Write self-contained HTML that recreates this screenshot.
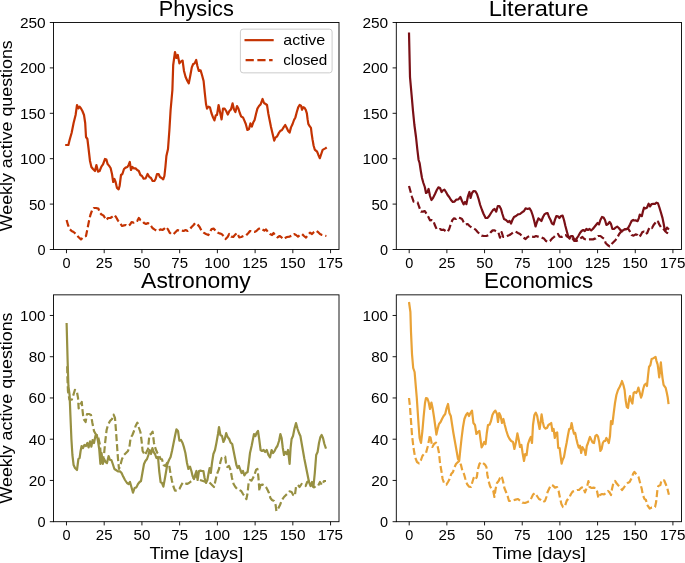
<!DOCTYPE html>
<html lang="en"><head><meta charset="utf-8"><title>Weekly active questions</title>
<style>html,body{margin:0;padding:0;background:#fff;}body{width:685px;height:563px;overflow:hidden;}svg{display:block;}svg text{font-family:"Liberation Sans",sans-serif;fill:#000000;}</style></head><body>
<svg width="685" height="563" viewBox="0 0 685 563">
<defs><filter id="nf" x="0" y="0" width="685" height="563" filterUnits="userSpaceOnUse"><feOffset dx="0" dy="0"/></filter></defs>
<rect width="685" height="563" fill="#ffffff"/>
<g id="TL">
<path d="M66.60 220.00 L68.00 225.00 L69.60 229.00 L71.60 231.00 L73.60 232.00 L76.00 234.00 L78.40 237.00 L81.00 239.40 L83.60 237.00 L86.00 236.00 L87.40 229.00 L89.00 221.00 L90.40 215.00 L92.00 210.60 L93.60 208.00 L96.00 208.00 L98.40 208.60 L100.00 213.00 L101.60 214.60 L103.40 215.40 L105.00 218.00 L106.40 220.00 L108.00 218.00 L110.40 218.00 L112.40 216.60 L114.40 215.00 L116.00 217.00 L118.00 220.60 L120.00 223.00 L122.00 226.00 L124.00 225.40 L126.00 225.00 L128.00 226.00 L130.00 224.60 L131.60 222.00 L133.60 222.60 L135.60 221.00 L137.20 221.00 L138.80 218.00 L140.40 220.00 L142.40 221.00 L144.00 223.00 L146.00 224.00 L148.00 223.00 L150.40 225.00 L152.40 228.00 L154.40 229.40 L156.40 230.60 L158.40 231.00 L160.40 229.40 L162.40 230.00 L164.00 229.00 L166.00 227.00 L168.00 229.40 L169.60 232.60 L171.60 234.40 L173.60 234.00 L175.60 232.00 L177.60 230.00 L179.60 231.00 L181.60 230.60 L183.60 231.00 L185.60 230.00 L187.60 231.00 L189.60 229.40 L191.60 227.00 L193.60 225.00 L195.20 223.00 L198.00 225.00 L199.60 227.00 L201.60 231.00 L203.60 232.60 L206.00 234.00 L208.40 235.00 L210.00 232.00 L211.60 229.00 L213.60 228.60 L215.60 230.60 L217.60 232.60 L219.60 233.40 L221.60 234.00 L223.60 236.00 L225.60 239.00 L227.60 237.00 L229.20 234.00 L231.20 236.60 L233.20 237.00 L235.20 234.60 L237.20 233.00 L239.20 237.40 L241.20 237.00 L243.60 236.00 L246.00 235.60 L248.40 233.00 L250.00 231.00 L252.40 231.40 L254.40 232.00 L256.40 231.00 L258.40 229.00 L260.40 228.00 L262.40 229.40 L264.40 230.60 L266.00 229.40 L268.00 232.00 L270.00 234.00 L272.00 235.00 L273.60 233.00 L275.60 236.00 L277.60 237.40 L279.60 236.00 L281.60 237.40 L283.00 239.00 L285.00 238.00 L287.00 237.00 L289.60 236.60 L292.00 235.60 L294.00 234.00 L296.00 235.00 L298.00 236.60 L300.00 235.00 L302.00 234.00 L304.00 236.00 L306.00 237.60 L308.00 235.00 L310.00 232.60 L312.00 234.00 L314.00 232.00 L316.00 230.60 L318.00 232.00 L320.00 234.00 L322.00 235.00 L324.40 235.60 L326.40 236.00" fill="none" stroke="#C43302" stroke-width="2.2" stroke-linejoin="round" stroke-linecap="butt" stroke-dasharray="7.0 3.05"/>
<path d="M65.20 145.00 L68.40 145.00 L69.60 140.00 L71.60 133.00 L73.60 123.00 L75.60 115.00 L77.00 105.00 L78.40 108.40 L79.60 106.60 L81.00 108.40 L82.40 111.00 L84.00 115.00 L85.20 123.00 L86.00 137.00 L87.40 139.00 L88.60 149.00 L90.00 161.00 L91.40 167.00 L93.00 169.00 L95.00 171.00 L96.40 165.00 L98.00 171.60 L99.60 171.00 L101.40 166.60 L103.00 164.40 L105.00 159.00 L106.40 159.60 L107.60 164.00 L109.00 165.60 L110.60 168.00 L112.00 174.00 L113.20 182.00 L114.40 179.00 L115.60 182.00 L117.00 188.00 L118.60 189.40 L119.60 186.00 L121.00 175.00 L122.40 174.00 L124.00 169.00 L125.60 167.60 L127.40 167.00 L128.60 165.00 L129.80 162.00 L131.00 170.00 L132.40 167.00 L134.00 168.40 L135.60 168.40 L137.20 170.00 L138.80 171.00 L140.40 175.00 L142.00 176.00 L143.60 178.60 L145.60 178.40 L147.60 174.00 L149.40 177.00 L151.00 178.00 L152.60 181.00 L154.40 181.00 L155.60 179.00 L157.00 174.00 L158.60 174.00 L160.00 177.00 L161.60 178.00 L163.20 179.40 L164.40 176.00 L165.40 167.00 L166.40 156.00 L168.00 149.00 L169.40 130.00 L170.60 110.00 L172.40 90.00 L173.20 65.00 L175.00 52.00 L176.40 58.00 L177.80 55.00 L179.40 63.40 L181.00 61.40 L182.60 60.60 L184.00 71.00 L185.60 77.00 L187.40 81.00 L188.80 83.40 L190.40 75.00 L191.80 67.40 L193.20 64.00 L194.60 63.40 L196.20 60.00 L197.40 66.00 L198.80 71.00 L200.60 70.40 L202.00 75.00 L203.60 81.00 L204.80 93.00 L206.00 104.00 L207.00 108.60 L208.60 106.60 L210.00 107.40 L211.40 113.00 L213.00 117.40 L214.40 120.40 L215.80 115.40 L217.00 115.00 L218.60 105.00 L220.00 112.00 L221.60 119.40 L223.00 108.60 L224.60 108.60 L226.20 111.00 L227.80 114.60 L229.40 111.00 L231.00 109.40 L232.60 103.40 L234.00 109.40 L235.40 112.00 L237.00 106.00 L238.40 108.60 L239.80 113.00 L241.20 116.60 L243.00 117.40 L244.40 120.60 L245.80 124.00 L247.40 130.00 L249.00 129.00 L250.40 123.40 L251.80 126.60 L253.20 122.60 L254.60 120.00 L256.00 114.00 L257.40 108.60 L259.00 106.00 L260.60 104.40 L262.60 99.00 L264.00 103.00 L265.60 104.00 L267.00 105.00 L268.40 114.00 L269.60 120.00 L271.00 127.00 L272.40 133.00 L274.20 140.60 L275.60 137.40 L277.00 136.60 L278.60 133.40 L280.20 131.00 L282.00 130.00 L283.60 127.40 L285.20 125.00 L286.80 128.00 L288.20 131.00 L289.60 132.60 L291.00 127.40 L292.60 124.00 L294.00 120.00 L295.40 117.40 L296.80 112.00 L298.20 107.40 L299.60 105.00 L301.02 105.77 L302.04 109.71 L303.21 107.23 L304.53 107.81 L305.69 109.71 L306.86 113.36 L307.59 119.20 L308.32 123.87 L309.64 126.20 L310.95 127.96 L311.68 133.80 L312.55 139.64 L313.58 145.47 L314.74 149.56 L315.91 150.58 L317.08 151.61 L318.39 154.96 L319.85 158.18 L321.17 154.23 L322.63 149.85 L323.94 149.12 L325.40 148.39 L326.72 147.37" fill="none" stroke="#C43302" stroke-width="2.2" stroke-linejoin="round" stroke-linecap="butt"/>
<rect x="53.5" y="22.5" width="285.50" height="227.00" fill="none" stroke="#000000" stroke-width="0.9"/>
<path d="M66.48 249.5 v3.7 M104.20 249.5 v3.7 M141.93 249.5 v3.7 M179.66 249.5 v3.7 M217.38 249.5 v3.7 M255.11 249.5 v3.7 M292.83 249.5 v3.7 M330.56 249.5 v3.7 M53.5 249.50 h-3.7 M53.5 204.10 h-3.7 M53.5 158.70 h-3.7 M53.5 113.30 h-3.7 M53.5 67.90 h-3.7 M53.5 22.50 h-3.7" stroke="#000000" stroke-width="0.9" fill="none"/>
</g>
<g filter="url(#nf)" id="TL-text">
<text x="62.55" y="267.50" font-size="14.70" textLength="8.07" lengthAdjust="spacingAndGlyphs">0</text>
<text x="95.86" y="267.50" font-size="14.70" textLength="16.78" lengthAdjust="spacingAndGlyphs">25</text>
<text x="133.63" y="267.50" font-size="14.70" textLength="16.80" lengthAdjust="spacingAndGlyphs">50</text>
<text x="171.38" y="267.50" font-size="14.70" textLength="16.63" lengthAdjust="spacingAndGlyphs">75</text>
<text x="204.37" y="267.50" font-size="14.70" textLength="25.65" lengthAdjust="spacingAndGlyphs">100</text>
<text x="242.25" y="267.50" font-size="14.70" textLength="25.40" lengthAdjust="spacingAndGlyphs">125</text>
<text x="279.82" y="267.50" font-size="14.70" textLength="25.65" lengthAdjust="spacingAndGlyphs">150</text>
<text x="317.70" y="267.50" font-size="14.70" textLength="25.40" lengthAdjust="spacingAndGlyphs">175</text>
<text x="37.59" y="254.90" font-size="14.70" textLength="8.07" lengthAdjust="spacingAndGlyphs">0</text>
<text x="28.90" y="209.50" font-size="14.70" textLength="16.80" lengthAdjust="spacingAndGlyphs">50</text>
<text x="20.04" y="164.10" font-size="14.70" textLength="25.65" lengthAdjust="spacingAndGlyphs">100</text>
<text x="20.04" y="118.70" font-size="14.70" textLength="25.65" lengthAdjust="spacingAndGlyphs">150</text>
<text x="19.90" y="73.30" font-size="14.70" textLength="25.79" lengthAdjust="spacingAndGlyphs">200</text>
<text x="19.90" y="27.90" font-size="14.70" textLength="25.79" lengthAdjust="spacingAndGlyphs">250</text>
<text x="158.77" y="15.60" font-size="21.60" textLength="75.04" lengthAdjust="spacingAndGlyphs">Physics</text>
<text transform="translate(12.30 136.00) rotate(-90)" x="-95.24" y="0" font-size="16.30" textLength="191.01" lengthAdjust="spacingAndGlyphs">Weekly active questions</text>
</g>
<g id="TR">
<path d="M409.00 186.00 L410.40 191.00 L412.00 197.00 L413.60 201.60 L415.60 202.00 L417.60 202.40 L419.20 207.00 L421.00 211.60 L423.00 211.60 L424.80 211.00 L426.60 214.00 L428.40 217.00 L430.00 220.40 L431.60 220.00 L433.20 220.40 L434.80 225.00 L436.60 229.00 L438.40 229.60 L440.00 229.00 L441.60 230.00 L443.60 229.60 L445.60 231.00 L447.60 232.00 L449.20 229.00 L450.80 224.00 L452.40 220.00 L454.00 218.40 L456.00 219.00 L458.00 217.40 L460.00 218.00 L462.00 219.00 L463.60 222.00 L465.60 224.40 L467.60 224.00 L469.60 226.00 L471.60 227.60 L473.60 228.40 L475.60 229.60 L477.60 232.00 L479.60 234.00 L481.60 235.60 L484.00 236.00 L486.40 236.00 L488.60 235.00 L490.60 232.40 L492.60 230.40 L494.60 230.40 L496.60 231.60 L498.40 232.40 L500.00 237.60 L501.60 232.00 L503.20 237.00 L505.20 237.00 L507.20 236.00 L509.60 235.00 L511.60 233.60 L513.60 232.00 L515.60 231.60 L518.00 233.00 L520.00 234.00 L522.00 236.00 L524.00 238.00 L525.60 239.00 L527.60 237.00 L530.00 236.00 L532.00 236.60 L534.00 237.00 L536.00 236.00 L539.00 237.00 L541.60 237.60 L544.00 238.60 L546.00 241.00 L548.00 242.00 L550.00 241.00 L552.00 238.60 L554.00 237.00 L556.00 235.00 L558.00 234.00 L559.60 236.60 L561.60 237.00 L563.60 235.60 L565.60 235.00 L567.60 237.00 L569.60 237.60 L571.00 236.00 L572.60 238.60 L574.40 241.00 L576.40 241.00 L578.40 240.00 L580.40 238.40 L582.40 237.00 L584.40 239.00 L587.00 239.60 L590.00 239.40 L593.00 239.40 L595.60 238.40 L598.00 236.00 L600.40 236.00 L602.40 237.60 L604.40 239.00 L605.60 243.00 L607.60 245.00 L609.60 246.40 L611.60 244.00 L613.60 242.00 L615.60 240.00 L617.60 237.00 L619.20 234.00 L620.80 232.00 L622.80 231.00 L624.80 230.00 L626.80 229.00 L628.40 229.00 L630.00 231.60 L631.60 235.00 L633.60 235.60 L635.60 234.40 L637.60 235.00 L639.20 237.00 L640.80 235.00 L642.40 232.00 L644.00 231.60 L645.60 234.00 L647.20 233.00 L648.80 229.00 L650.40 227.00 L652.00 228.00 L653.60 225.00 L655.20 223.00 L656.51 220.52 L658.11 221.73 L659.08 224.14 L660.92 227.11 L662.53 227.59 L664.14 229.76 L665.74 231.77 L667.11 232.97 L668.15 230.16 L669.20 229.76" fill="none" stroke="#7A1016" stroke-width="2.2" stroke-linejoin="round" stroke-linecap="butt" stroke-dasharray="7.0 3.05"/>
<path d="M409.00 32.40 L410.00 77.00 L411.60 95.00 L413.00 111.00 L414.40 125.00 L416.00 137.00 L417.40 150.00 L418.60 160.00 L419.60 163.00 L420.80 171.00 L422.00 178.00 L423.40 183.00 L424.80 187.00 L426.00 193.00 L427.40 192.00 L428.60 189.00 L430.00 196.00 L431.40 200.00 L433.00 198.00 L435.00 194.00 L436.80 190.00 L438.40 187.40 L440.00 188.00 L441.60 192.00 L443.00 190.40 L444.40 189.60 L446.00 192.00 L447.60 195.00 L449.20 197.00 L451.00 200.00 L452.80 202.00 L454.60 201.60 L456.40 199.60 L458.40 199.40 L460.40 197.00 L462.00 201.00 L463.60 204.40 L465.00 202.00 L466.40 204.00 L468.00 196.00 L469.40 192.00 L470.60 198.00 L472.00 193.00 L473.60 191.00 L475.40 191.40 L477.00 194.00 L478.60 199.00 L480.20 205.00 L482.00 210.00 L483.60 214.00 L485.60 218.00 L487.40 218.00 L489.20 216.00 L491.00 213.00 L493.00 210.00 L494.60 209.00 L496.20 211.60 L497.80 206.00 L499.40 206.00 L501.00 209.00 L502.40 214.00 L504.00 219.00 L506.00 220.00 L508.00 222.00 L509.60 221.00 L511.00 223.60 L512.40 220.00 L514.00 217.00 L516.00 216.00 L518.00 214.40 L520.00 214.00 L522.00 212.40 L524.00 211.00 L525.60 208.40 L527.60 209.00 L529.60 208.40 L531.20 211.00 L532.60 215.00 L534.00 220.00 L535.40 226.00 L535.60 226.40 L537.00 222.00 L538.40 218.40 L540.00 219.60 L541.40 221.00 L543.00 217.00 L544.40 214.40 L546.00 213.40 L547.60 213.00 L549.00 217.00 L550.60 220.00 L552.00 223.60 L553.60 224.40 L555.00 219.60 L556.40 216.00 L558.00 216.40 L559.40 218.00 L561.00 216.00 L562.60 215.60 L564.00 220.00 L565.40 226.00 L567.00 232.00 L568.40 237.00 L569.60 238.60 L571.00 236.00 L572.60 236.00 L574.00 239.00 L575.60 240.00 L577.00 238.00 L578.60 235.60 L580.00 233.00 L581.60 231.00 L583.20 230.00 L584.80 231.00 L586.40 229.00 L588.00 230.00 L589.60 229.00 L591.20 230.40 L592.80 229.00 L594.40 227.00 L596.00 225.00 L597.60 223.00 L599.00 224.40 L600.40 220.00 L602.00 217.00 L603.60 217.60 L605.00 220.00 L606.40 225.00 L608.00 224.00 L609.60 222.00 L611.00 224.00 L612.40 229.00 L614.00 229.00 L615.60 227.60 L617.20 226.60 L618.80 228.00 L620.40 230.00 L622.00 231.00 L623.60 230.00 L625.20 229.00 L626.80 229.00 L628.40 227.60 L630.00 224.40 L631.60 221.00 L633.20 220.00 L633.61 220.52 L635.62 220.36 L637.63 221.16 L638.84 218.11 L639.80 214.50 L640.84 215.70 L641.89 216.10 L642.85 211.69 L644.06 207.67 L645.66 208.47 L647.03 207.51 L648.63 203.65 L650.08 206.47 L651.53 204.06 L653.29 203.90 L655.06 203.82 L656.51 202.69 L657.95 203.25 L659.32 207.27 L660.92 212.49 L662.53 218.11 L663.57 223.33 L664.38 227.75 L665.18 230.56 L666.14 229.36 L666.95 227.59 L667.75 228.39 L668.96 229.52" fill="none" stroke="#7A1016" stroke-width="2.2" stroke-linejoin="round" stroke-linecap="butt"/>
<rect x="396.3" y="22.5" width="285.20" height="227.00" fill="none" stroke="#000000" stroke-width="0.9"/>
<path d="M409.20 249.5 v3.7 M446.88 249.5 v3.7 M484.55 249.5 v3.7 M522.23 249.5 v3.7 M559.90 249.5 v3.7 M597.58 249.5 v3.7 M635.25 249.5 v3.7 M672.92 249.5 v3.7 M396.3 249.50 h-3.7 M396.3 204.10 h-3.7 M396.3 158.70 h-3.7 M396.3 113.30 h-3.7 M396.3 67.90 h-3.7 M396.3 22.50 h-3.7" stroke="#000000" stroke-width="0.9" fill="none"/>
</g>
<g filter="url(#nf)" id="TR-text">
<text x="405.27" y="267.50" font-size="14.70" textLength="8.07" lengthAdjust="spacingAndGlyphs">0</text>
<text x="438.53" y="267.50" font-size="14.70" textLength="16.78" lengthAdjust="spacingAndGlyphs">25</text>
<text x="476.25" y="267.50" font-size="14.70" textLength="16.80" lengthAdjust="spacingAndGlyphs">50</text>
<text x="513.95" y="267.50" font-size="14.70" textLength="16.63" lengthAdjust="spacingAndGlyphs">75</text>
<text x="546.89" y="267.50" font-size="14.70" textLength="25.65" lengthAdjust="spacingAndGlyphs">100</text>
<text x="584.72" y="267.50" font-size="14.70" textLength="25.40" lengthAdjust="spacingAndGlyphs">125</text>
<text x="622.24" y="267.50" font-size="14.70" textLength="25.65" lengthAdjust="spacingAndGlyphs">150</text>
<text x="660.07" y="267.50" font-size="14.70" textLength="25.40" lengthAdjust="spacingAndGlyphs">175</text>
<text x="380.09" y="254.90" font-size="14.70" textLength="8.07" lengthAdjust="spacingAndGlyphs">0</text>
<text x="371.40" y="209.50" font-size="14.70" textLength="16.80" lengthAdjust="spacingAndGlyphs">50</text>
<text x="362.54" y="164.10" font-size="14.70" textLength="25.65" lengthAdjust="spacingAndGlyphs">100</text>
<text x="362.54" y="118.70" font-size="14.70" textLength="25.65" lengthAdjust="spacingAndGlyphs">150</text>
<text x="362.40" y="73.30" font-size="14.70" textLength="25.79" lengthAdjust="spacingAndGlyphs">200</text>
<text x="362.40" y="27.90" font-size="14.70" textLength="25.79" lengthAdjust="spacingAndGlyphs">250</text>
<text x="488.68" y="15.60" font-size="21.60" textLength="99.86" lengthAdjust="spacingAndGlyphs">Literature</text>
</g>
<g id="BL">
<path d="M67.21 366.17 L67.46 378.61 L67.96 391.04 L69.45 399.50 L71.82 399.75 L73.06 396.02 L74.93 389.80 L76.79 391.04 L78.03 397.89 L78.66 408.46 L80.15 404.73 L81.77 401.99 L82.39 409.08 L83.13 415.92 L83.60 419.00 L85.60 422.00 L87.00 414.00 L89.00 414.00 L91.00 415.00 L92.40 423.00 L94.00 431.00 L95.60 434.00 L96.80 435.00 L98.40 438.00 L100.00 445.00 L100.80 455.00 L101.60 460.00 L102.80 459.00 L104.00 455.00 L105.20 442.00 L106.60 430.00 L108.00 425.00 L110.00 421.00 L112.00 419.00 L113.60 414.60 L115.00 418.00 L116.00 431.00 L117.00 445.00 L118.00 459.00 L119.00 469.00 L120.40 465.00 L122.00 459.00 L124.00 455.00 L126.00 453.00 L128.00 451.00 L129.40 447.00 L130.60 438.00 L132.40 435.00 L134.00 431.00 L135.60 426.00 L137.40 422.60 L139.00 428.00 L140.40 432.00 L141.60 441.00 L142.60 451.00 L145.00 455.00 L148.00 449.00 L149.40 435.00 L151.00 434.00 L152.60 431.60 L154.00 443.00 L155.60 449.00 L157.40 453.00 L159.00 455.00 L160.60 459.00 L162.00 459.40 L163.60 465.00 L165.40 466.00 L167.00 463.00 L169.00 464.00 L170.40 473.00 L172.00 481.00 L173.60 487.00 L175.00 490.60 L177.00 490.60 L179.40 489.00 L181.40 485.00 L183.00 482.40 L185.00 483.00 L187.00 484.00 L189.00 483.00 L191.00 481.40 L193.00 480.00 L195.00 476.00 L197.00 477.00 L200.00 480.00 L203.00 481.00 L206.00 482.00 L209.00 482.00 L212.00 485.00 L214.00 487.00 L215.60 480.00 L217.00 474.00 L219.00 469.00 L220.40 462.00 L221.60 458.00 L223.60 457.40 L225.20 456.60 L226.00 463.00 L227.20 467.00 L229.00 466.00 L230.60 470.00 L232.00 478.00 L233.60 484.00 L235.40 487.00 L237.20 489.00 L239.40 490.00 L241.20 491.00 L243.00 494.00 L245.00 497.00 L246.40 499.00 L247.60 493.00 L248.60 483.00 L250.00 480.00 L251.60 480.60 L253.00 478.00 L254.40 475.00 L256.00 470.00 L257.40 469.00 L258.40 477.00 L259.40 491.00 L260.40 485.00 L262.40 484.60 L264.40 485.40 L266.00 487.00 L267.60 490.00 L269.00 493.00 L270.40 498.00 L272.00 500.00 L274.00 501.00 L275.60 505.00 L276.40 511.00 L278.00 509.00 L280.00 505.00 L282.00 500.00 L284.00 497.00 L286.00 495.00 L288.00 493.00 L289.60 491.40 L291.60 492.00 L293.20 495.00 L294.80 496.00 L296.00 487.00 L298.00 485.00 L299.60 487.00 L301.60 484.00 L303.60 485.00 L305.60 486.00 L307.20 482.00 L309.00 481.00 L310.60 483.00 L312.40 486.00 L314.00 487.40 L316.00 486.00 L318.00 486.00 L320.00 482.00 L322.00 485.00 L324.00 481.00 L326.00 481.00" fill="none" stroke="#979042" stroke-width="2.2" stroke-linejoin="round" stroke-linecap="butt" stroke-dasharray="7.0 3.05"/>
<path d="M66.60 323.00 L67.60 360.00 L68.40 386.00 L69.60 395.00 L70.40 415.00 L71.40 439.00 L72.40 455.00 L73.60 465.00 L75.00 468.00 L77.00 470.00 L78.40 459.00 L79.60 458.00 L80.60 451.00 L81.60 446.00 L83.00 448.00 L84.40 445.00 L86.00 446.00 L87.40 443.00 L88.60 447.40 L90.00 441.40 L91.40 446.60 L92.60 440.00 L94.00 443.00 L95.40 436.00 L96.80 435.00 L98.00 441.00 L99.20 449.00 L100.40 464.00 L101.60 453.00 L102.80 464.00 L104.00 458.60 L105.60 462.00 L107.00 463.00 L108.60 456.00 L110.00 460.00 L111.40 460.00 L112.80 464.00 L114.40 469.00 L116.00 470.00 L118.00 471.40 L120.00 471.40 L121.60 473.00 L123.20 476.60 L125.00 480.00 L127.00 483.00 L128.60 484.00 L130.00 482.00 L131.40 487.00 L133.00 492.60 L134.60 488.00 L136.40 487.40 L138.00 484.00 L139.60 482.00 L141.00 481.00 L142.40 473.00 L144.00 464.00 L145.40 461.00 L147.00 459.00 L148.40 455.00 L149.60 450.00 L151.00 454.00 L152.40 448.00 L153.60 452.00 L155.00 454.00 L156.40 458.00 L158.00 457.00 L159.20 471.00 L160.60 482.00 L162.00 483.00 L163.40 486.60 L164.80 479.00 L166.00 472.00 L167.40 464.00 L169.00 460.00 L170.60 457.00 L172.00 451.00 L173.40 444.00 L175.00 436.00 L176.40 429.40 L178.00 431.00 L179.40 440.60 L181.00 440.00 L182.60 443.00 L184.00 447.40 L185.40 453.00 L187.00 463.00 L188.40 469.00 L190.00 466.60 L191.40 471.00 L192.60 476.00 L194.00 479.00 L195.40 474.00 L196.40 471.00 L197.60 480.00 L199.00 471.00 L200.40 470.60 L202.00 471.00 L203.40 471.00 L204.60 478.00 L206.00 483.00 L207.40 480.00 L208.60 473.00 L209.60 468.00 L210.80 473.00 L212.00 463.00 L213.40 454.00 L215.00 450.00 L216.40 443.00 L218.00 434.00 L219.00 427.00 L220.40 435.00 L222.00 436.00 L223.40 442.00 L224.80 439.00 L226.20 433.00 L227.60 437.00 L229.20 439.00 L230.60 442.60 L232.20 444.00 L233.60 451.00 L235.00 458.00 L236.40 465.00 L237.60 468.00 L239.00 466.00 L240.40 470.00 L241.60 473.00 L243.00 471.00 L244.40 475.40 L246.00 473.00 L247.60 472.00 L248.80 463.00 L250.00 453.00 L251.60 446.00 L253.00 439.00 L254.00 434.00 L255.40 436.00 L256.60 433.00 L258.00 431.00 L259.20 439.00 L260.60 450.00 L262.00 451.00 L263.60 450.00 L265.20 452.00 L266.80 450.00 L268.40 455.00 L270.00 457.40 L271.60 450.00 L273.00 453.00 L274.40 451.40 L276.00 448.00 L277.40 446.00 L279.00 441.00 L280.40 434.00 L281.60 438.00 L282.80 448.00 L284.00 455.00 L285.40 452.00 L286.80 454.00 L288.00 450.00 L289.60 464.00 L290.60 448.00 L291.60 439.00 L293.00 436.00 L294.40 429.00 L296.00 423.00 L297.60 429.00 L299.00 433.00 L300.40 436.00 L301.60 443.00 L303.00 451.00 L304.40 459.00 L306.00 467.00 L307.40 474.00 L309.00 482.00 L310.60 486.00 L312.00 482.00 L313.40 487.00 L314.80 473.00 L316.20 455.00 L317.60 452.00 L319.00 443.00 L320.40 437.00 L321.60 435.00 L323.00 438.00 L324.40 444.00 L326.00 448.60" fill="none" stroke="#979042" stroke-width="2.2" stroke-linejoin="round" stroke-linecap="butt"/>
<rect x="53.5" y="294.85" width="285.50" height="226.85" fill="none" stroke="#000000" stroke-width="0.9"/>
<path d="M66.48 521.7 v3.7 M104.20 521.7 v3.7 M141.93 521.7 v3.7 M179.66 521.7 v3.7 M217.38 521.7 v3.7 M255.11 521.7 v3.7 M292.83 521.7 v3.7 M330.56 521.7 v3.7 M53.5 521.70 h-3.7 M53.5 480.45 h-3.7 M53.5 439.21 h-3.7 M53.5 397.96 h-3.7 M53.5 356.72 h-3.7 M53.5 315.47 h-3.7" stroke="#000000" stroke-width="0.9" fill="none"/>
</g>
<g filter="url(#nf)" id="BL-text">
<text x="62.55" y="539.70" font-size="14.70" textLength="8.07" lengthAdjust="spacingAndGlyphs">0</text>
<text x="95.86" y="539.70" font-size="14.70" textLength="16.78" lengthAdjust="spacingAndGlyphs">25</text>
<text x="133.63" y="539.70" font-size="14.70" textLength="16.80" lengthAdjust="spacingAndGlyphs">50</text>
<text x="171.38" y="539.70" font-size="14.70" textLength="16.63" lengthAdjust="spacingAndGlyphs">75</text>
<text x="204.37" y="539.70" font-size="14.70" textLength="25.65" lengthAdjust="spacingAndGlyphs">100</text>
<text x="242.25" y="539.70" font-size="14.70" textLength="25.40" lengthAdjust="spacingAndGlyphs">125</text>
<text x="279.82" y="539.70" font-size="14.70" textLength="25.65" lengthAdjust="spacingAndGlyphs">150</text>
<text x="317.70" y="539.70" font-size="14.70" textLength="25.40" lengthAdjust="spacingAndGlyphs">175</text>
<text x="37.59" y="527.10" font-size="14.70" textLength="8.07" lengthAdjust="spacingAndGlyphs">0</text>
<text x="28.67" y="485.85" font-size="14.70" textLength="17.04" lengthAdjust="spacingAndGlyphs">20</text>
<text x="28.75" y="444.61" font-size="14.70" textLength="16.96" lengthAdjust="spacingAndGlyphs">40</text>
<text x="28.63" y="403.36" font-size="14.70" textLength="17.08" lengthAdjust="spacingAndGlyphs">60</text>
<text x="28.72" y="362.12" font-size="14.70" textLength="16.99" lengthAdjust="spacingAndGlyphs">80</text>
<text x="20.04" y="320.87" font-size="14.70" textLength="25.65" lengthAdjust="spacingAndGlyphs">100</text>
<text x="141.09" y="287.95" font-size="21.60" textLength="109.70" lengthAdjust="spacingAndGlyphs">Astronomy</text>
<text x="149.54" y="559.10" font-size="16.30" textLength="93.70" lengthAdjust="spacingAndGlyphs">Time [days]</text>
<text transform="translate(12.30 408.28) rotate(-90)" x="-95.24" y="0" font-size="16.30" textLength="191.01" lengthAdjust="spacingAndGlyphs">Weekly active questions</text>
</g>
<g id="BR">
<path d="M409.00 398.00 L410.00 407.00 L411.00 421.00 L412.00 435.00 L413.40 447.00 L415.00 457.00 L417.00 462.00 L419.00 463.40 L421.00 460.00 L422.40 456.00 L424.00 454.00 L426.00 453.00 L427.60 447.00 L429.00 440.00 L430.00 435.00 L431.00 440.00 L432.40 447.00 L434.00 444.00 L436.00 442.60 L437.60 446.00 L439.00 453.00 L440.00 463.00 L441.40 471.00 L442.60 479.00 L444.40 484.00 L446.40 484.60 L448.00 482.00 L449.60 479.00 L451.20 474.00 L453.00 472.00 L454.60 467.00 L456.00 464.00 L458.00 462.00 L459.40 461.40 L461.00 465.00 L462.40 471.00 L464.00 474.00 L465.40 479.00 L467.00 484.00 L469.00 486.60 L471.00 487.00 L472.40 482.00 L473.60 478.00 L475.20 480.00 L476.80 477.00 L478.00 469.00 L479.40 464.00 L481.00 462.00 L483.00 463.00 L485.00 464.60 L486.40 467.00 L487.40 475.00 L488.60 481.00 L490.00 486.00 L491.60 489.00 L493.20 490.60 L494.40 497.00 L495.60 489.00 L497.00 483.00 L498.60 481.00 L500.00 478.00 L501.60 476.00 L503.00 481.00 L504.40 488.00 L506.00 492.00 L507.60 496.00 L509.00 501.00 L511.00 501.00 L513.00 500.40 L515.60 499.60 L518.00 499.00 L520.00 500.60 L522.40 502.60 L525.00 503.00 L527.60 502.00 L529.60 501.00 L531.40 498.00 L533.00 494.60 L535.00 493.00 L537.00 496.00 L539.00 499.00 L541.00 500.00 L543.00 502.00 L545.00 501.00 L546.40 497.00 L547.60 492.00 L549.00 489.00 L551.00 485.00 L553.00 485.60 L555.00 487.60 L557.00 487.00 L558.60 491.00 L560.00 498.00 L561.40 504.00 L563.00 507.00 L565.00 506.00 L566.60 501.00 L568.00 499.00 L569.60 497.00 L571.00 494.00 L572.60 491.60 L574.40 491.00 L577.00 490.00 L579.00 490.00 L581.00 488.00 L583.00 487.00 L585.00 492.40 L587.00 487.00 L588.40 481.00 L589.60 487.00 L591.60 488.00 L593.60 487.60 L595.60 488.00 L597.00 491.00 L598.40 498.00 L600.00 495.00 L602.00 494.00 L604.00 494.40 L606.00 493.00 L608.00 491.00 L609.60 492.40 L611.00 495.00 L612.00 489.00 L613.60 482.00 L615.00 481.00 L616.40 483.00 L618.00 485.00 L620.00 487.00 L622.00 490.00 L623.60 488.00 L625.60 485.00 L627.60 483.00 L629.60 482.00 L631.60 478.00 L633.00 474.00 L634.40 472.00 L636.40 474.39 L638.53 477.06 L640.13 482.92 L641.73 488.78 L642.79 494.65 L644.39 498.91 L645.99 499.98 L647.06 504.78 L649.72 508.51 L651.86 507.44 L655.05 506.91 L656.12 502.11 L656.87 495.18 L657.51 488.78 L658.25 486.12 L660.38 485.05 L661.45 480.26 L664.12 480.26 L665.71 483.99 L667.31 488.25 L668.91 494.65" fill="none" stroke="#E9A236" stroke-width="2.2" stroke-linejoin="round" stroke-linecap="butt" stroke-dasharray="7.0 3.05"/>
<path d="M409.00 302.00 L410.40 312.00 L411.00 332.00 L412.00 354.00 L413.20 368.00 L414.60 372.00 L415.60 384.00 L416.80 398.00 L417.60 410.00 L418.60 425.00 L419.60 438.00 L421.00 443.00 L422.40 431.00 L423.60 417.00 L425.00 403.00 L426.00 398.00 L427.40 398.60 L428.60 402.00 L430.00 409.00 L431.40 402.60 L432.60 408.00 L434.00 417.00 L435.40 427.00 L436.40 434.60 L437.60 429.00 L439.00 424.00 L440.60 422.00 L442.00 419.00 L443.60 416.00 L445.20 414.00 L446.60 408.00 L448.00 404.00 L449.40 413.00 L450.80 416.00 L452.00 424.00 L453.40 433.00 L455.00 442.00 L456.60 451.00 L458.00 459.00 L459.20 461.00 L460.40 449.00 L461.60 438.00 L463.00 427.00 L464.40 419.00 L466.00 415.00 L467.60 413.00 L469.00 416.00 L470.40 413.00 L472.00 410.60 L473.40 423.00 L475.00 425.00 L476.40 434.00 L478.00 432.00 L479.40 431.00 L480.60 440.00 L481.60 447.40 L483.00 445.00 L484.20 442.00 L485.60 444.00 L486.80 433.00 L488.00 425.00 L489.60 424.60 L491.00 421.00 L492.40 415.00 L494.00 412.00 L495.40 410.60 L497.00 414.00 L498.00 422.00 L499.20 413.00 L500.60 416.00 L502.00 423.00 L503.40 419.00 L504.80 425.00 L506.40 431.00 L508.00 436.00 L509.60 439.00 L511.20 441.00 L513.00 442.00 L514.40 449.00 L516.00 442.00 L517.40 433.40 L518.80 440.00 L520.00 447.00 L521.40 445.00 L522.60 453.00 L524.00 461.00 L525.20 454.00 L526.60 455.00 L528.00 444.00 L529.40 440.00 L530.80 437.00 L532.00 443.00 L533.00 425.00 L534.40 415.00 L535.80 412.60 L537.20 416.00 L538.40 423.00 L539.60 429.00 L540.60 422.00 L541.60 414.40 L542.80 422.00 L544.00 427.00 L545.60 428.60 L547.00 428.00 L548.40 425.00 L550.00 424.00 L551.20 423.00 L552.40 431.00 L553.60 429.00 L554.80 438.00 L556.00 433.00 L557.20 432.40 L558.20 448.00 L559.60 448.00 L560.60 456.00 L561.60 463.60 L562.60 460.00 L564.00 457.00 L565.40 449.00 L566.60 443.00 L568.00 435.00 L569.20 429.00 L570.60 428.60 L571.60 423.00 L572.80 429.00 L574.00 433.60 L575.20 433.00 L576.40 439.00 L577.60 444.00 L578.80 447.60 L580.00 445.60 L581.20 453.00 L582.40 447.00 L583.60 449.00 L584.80 451.00 L585.60 455.00 L586.80 446.00 L588.00 443.00 L589.20 439.00 L590.00 437.00 L591.40 440.00 L592.60 442.40 L594.00 443.00 L595.40 436.00 L596.80 435.00 L598.00 436.40 L599.20 442.00 L600.40 451.00 L601.60 449.00 L602.80 443.00 L604.00 441.00 L605.20 441.00 L606.40 438.00 L607.60 440.00 L608.80 443.00 L610.00 436.00 L611.00 421.00 L612.40 424.00 L613.60 414.00 L615.00 403.00 L616.40 395.00 L618.00 390.00 L619.60 387.00 L621.00 384.00 L622.00 381.00 L623.40 385.00 L624.60 390.00 L625.60 400.00 L626.80 407.00 L628.00 408.00 L629.20 399.00 L630.00 396.00 L631.20 401.00 L632.40 403.60 L633.60 393.00 L635.00 392.00 L636.20 393.00 L637.40 391.00 L638.40 387.60 L639.60 392.00 L641.00 397.60 L642.00 395.00 L643.20 389.00 L644.40 385.00 L646.00 383.60 L647.00 386.00 L648.00 376.00 L649.00 367.00 L650.40 365.00 L651.60 359.00 L653.00 358.40 L654.40 357.60 L655.60 357.00 L656.37 360.57 L657.61 364.30 L658.36 369.90 L659.23 377.36 L660.10 369.90 L660.85 362.44 L661.72 371.14 L662.59 378.61 L663.58 384.83 L664.58 386.32 L665.70 387.94 L666.69 392.29 L667.69 397.26 L668.56 404.10" fill="none" stroke="#E9A236" stroke-width="2.2" stroke-linejoin="round" stroke-linecap="butt"/>
<rect x="396.3" y="294.85" width="285.20" height="226.85" fill="none" stroke="#000000" stroke-width="0.9"/>
<path d="M409.20 521.7 v3.7 M446.88 521.7 v3.7 M484.55 521.7 v3.7 M522.23 521.7 v3.7 M559.90 521.7 v3.7 M597.58 521.7 v3.7 M635.25 521.7 v3.7 M672.92 521.7 v3.7 M396.3 521.70 h-3.7 M396.3 480.45 h-3.7 M396.3 439.21 h-3.7 M396.3 397.96 h-3.7 M396.3 356.72 h-3.7 M396.3 315.47 h-3.7" stroke="#000000" stroke-width="0.9" fill="none"/>
</g>
<g filter="url(#nf)" id="BR-text">
<text x="405.27" y="539.70" font-size="14.70" textLength="8.07" lengthAdjust="spacingAndGlyphs">0</text>
<text x="438.53" y="539.70" font-size="14.70" textLength="16.78" lengthAdjust="spacingAndGlyphs">25</text>
<text x="476.25" y="539.70" font-size="14.70" textLength="16.80" lengthAdjust="spacingAndGlyphs">50</text>
<text x="513.95" y="539.70" font-size="14.70" textLength="16.63" lengthAdjust="spacingAndGlyphs">75</text>
<text x="546.89" y="539.70" font-size="14.70" textLength="25.65" lengthAdjust="spacingAndGlyphs">100</text>
<text x="584.72" y="539.70" font-size="14.70" textLength="25.40" lengthAdjust="spacingAndGlyphs">125</text>
<text x="622.24" y="539.70" font-size="14.70" textLength="25.65" lengthAdjust="spacingAndGlyphs">150</text>
<text x="660.07" y="539.70" font-size="14.70" textLength="25.40" lengthAdjust="spacingAndGlyphs">175</text>
<text x="380.09" y="527.10" font-size="14.70" textLength="8.07" lengthAdjust="spacingAndGlyphs">0</text>
<text x="371.17" y="485.85" font-size="14.70" textLength="17.04" lengthAdjust="spacingAndGlyphs">20</text>
<text x="371.25" y="444.61" font-size="14.70" textLength="16.96" lengthAdjust="spacingAndGlyphs">40</text>
<text x="371.13" y="403.36" font-size="14.70" textLength="17.08" lengthAdjust="spacingAndGlyphs">60</text>
<text x="371.22" y="362.12" font-size="14.70" textLength="16.99" lengthAdjust="spacingAndGlyphs">80</text>
<text x="362.54" y="320.87" font-size="14.70" textLength="25.65" lengthAdjust="spacingAndGlyphs">100</text>
<text x="484.07" y="287.95" font-size="21.60" textLength="109.02" lengthAdjust="spacingAndGlyphs">Economics</text>
<text x="492.19" y="559.10" font-size="16.30" textLength="93.70" lengthAdjust="spacingAndGlyphs">Time [days]</text>
</g>
<g id="legend">
<rect x="240.4" y="29.15" width="91.7" height="43.7" rx="2.7" ry="2.7" fill="#ffffff" fill-opacity="0.8" stroke="#c6c6c6" stroke-width="0.9"/>
<path d="M245.6 40.15 H272.6" stroke="#C43302" stroke-width="2.2" fill="none" stroke-linecap="square"/>
<path d="M245.6 60.2 H272.6" stroke="#C43302" stroke-width="2.2" fill="none" stroke-dasharray="8.2 3.55"/>
</g>
<g filter="url(#nf)" id="legend-text">
<text x="283.22" y="45.00" font-size="14.60" textLength="41.95" lengthAdjust="spacingAndGlyphs">active</text>
<text x="283.25" y="65.00" font-size="14.60" textLength="44.06" lengthAdjust="spacingAndGlyphs">closed</text>
</g>
</svg></body></html>
